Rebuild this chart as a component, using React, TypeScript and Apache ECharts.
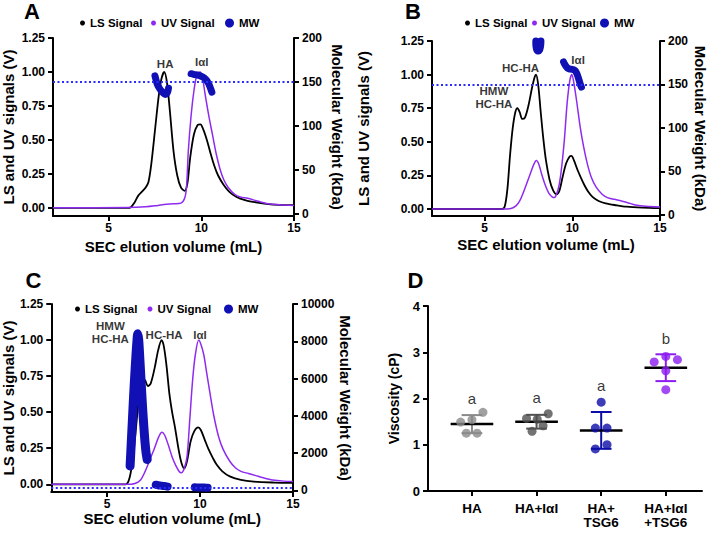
import React, { useEffect, useRef } from "react";
import * as echarts from "echarts";

const FONT = "'Liberation Sans', Arial, sans-serif";

// ---------- Data ----------
const xTicks = [5, 10, 15];
const signalTicks = [0, 0.25, 0.5, 0.75, 1, 1.25];
const mwTicksAB = [0, 50, 100, 150, 200];
const mwTicksC = [0, 2000, 4000, 6000, 8000, 10000];
const mwRef = 150;

const lsA: number[][] = [[2,0],[6,0],[6.2,0.005],[6.4,0.04],[6.6,0.09],[6.8,0.12],[7,0.15],[7.15,0.19],[7.3,0.32],[7.5,0.57],[7.7,0.82],[7.85,0.95],[8,1.0],[8.15,0.92],[8.3,0.72],[8.5,0.42],[8.7,0.24],[8.9,0.15],[9.1,0.125],[9.25,0.18],[9.4,0.37],[9.6,0.54],[9.8,0.61],[9.95,0.615],[10.1,0.58],[10.3,0.5],[10.5,0.4],[10.7,0.31],[10.9,0.24],[11.2,0.17],[11.5,0.12],[11.9,0.08],[12.4,0.055],[12.8,0.044],[13.5,0.03],[14.2,0.022],[15,0.02]];
const uvA: number[][] = [[2,0],[6,0.003],[7,0.008],[7.5,0.015],[8,0.025],[8.5,0.03],[8.9,0.035],[9.1,0.07],[9.2,0.15],[9.3,0.42],[9.45,0.68],[9.6,0.86],[9.75,0.97],[9.93,1.0],[10.05,0.97],[10.2,0.84],[10.4,0.68],[10.6,0.54],[10.8,0.4],[11,0.29],[11.2,0.21],[11.45,0.15],[11.8,0.1],[12.1,0.08],[12.5,0.07],[12.9,0.055],[13.2,0.043],[13.6,0.03],[14.2,0.022],[15,0.018]];
const mwA_HA: number[][] = [[7.5,157],[7.55,153],[7.6,149],[7.66,146],[7.74,143],[7.82,140.5],[7.9,138.5],[7.98,137],[8.06,136],[8.14,137],[8.2,140],[8.23,143]];
const mwA_IaI: number[][] = [[9.45,159.5],[9.55,159],[9.65,158.5],[9.8,158],[9.95,157],[10.1,155.5],[10.22,153.5],[10.32,151],[10.4,148],[10.47,144.5],[10.53,141],[10.57,138.5]];

const lsB: number[][] = [[2,0],[6,0],[6.15,0.02],[6.3,0.15],[6.45,0.4],[6.6,0.6],[6.75,0.72],[6.87,0.75],[7,0.72],[7.15,0.67],[7.3,0.68],[7.5,0.77],[7.7,0.9],[7.85,0.98],[7.93,1.0],[8.05,0.93],[8.2,0.72],[8.35,0.52],[8.5,0.36],[8.7,0.22],[8.9,0.14],[9.1,0.11],[9.25,0.13],[9.45,0.24],[9.65,0.34],[9.85,0.39],[9.95,0.395],[10.1,0.36],[10.3,0.29],[10.5,0.23],[10.7,0.175],[10.9,0.13],[11.15,0.09],[11.5,0.06],[11.9,0.042],[12.5,0.028],[13.1,0.017],[14,0.01],[15,0.006]];
const uvB: number[][] = [[2,0],[6,0],[6.5,0.004],[6.8,0.025],[7,0.06],[7.2,0.12],[7.4,0.19],[7.6,0.26],[7.8,0.33],[7.95,0.36],[8.1,0.33],[8.25,0.26],[8.45,0.18],[8.65,0.12],[8.85,0.09],[8.98,0.085],[9.1,0.11],[9.25,0.18],[9.4,0.32],[9.55,0.52],[9.7,0.78],[9.85,0.95],[9.97,1.0],[10.1,0.93],[10.25,0.8],[10.45,0.61],[10.65,0.46],[10.85,0.34],[11.1,0.23],[11.35,0.165],[11.7,0.11],[12,0.085],[12.4,0.072],[12.8,0.06],[13.2,0.045],[13.6,0.03],[14.2,0.02],[15,0.015]];
const mwB_HC: number[][] = [[7.92,200],[7.92,196],[7.94,192.5],[7.97,190],[8.02,188.5],[8.08,188.5],[8.13,189.5],[8.17,192],[8.2,195.5],[8.21,200]];
const mwB_IaI: number[][] = [[9.5,176],[9.56,173.5],[9.64,171],[9.72,169],[9.82,168],[9.95,167.5],[10.08,167],[10.18,165.5],[10.26,162.5],[10.33,158.5],[10.4,154],[10.46,150],[10.52,147]];

const lsC: number[][] = [[2,0],[6,0],[6.15,0.02],[6.3,0.1],[6.45,0.25],[6.6,0.45],[6.75,0.65],[6.9,0.74],[7.05,0.72],[7.2,0.68],[7.35,0.7],[7.55,0.8],[7.75,0.93],[7.93,1.0],[8.05,0.96],[8.2,0.82],[8.35,0.63],[8.5,0.5],[8.66,0.39],[8.85,0.24],[9,0.15],[9.15,0.11],[9.3,0.16],[9.5,0.3],[9.7,0.37],[9.9,0.395],[10.05,0.375],[10.25,0.31],[10.45,0.245],[10.7,0.18],[10.9,0.135],[11.2,0.09],[11.6,0.055],[12.2,0.03],[12.9,0.018],[14,0.012],[15,0.01]];
const uvC: number[][] = [[2,0],[6,0],[6.5,0.006],[6.8,0.03],[7.05,0.09],[7.3,0.17],[7.55,0.25],[7.75,0.32],[7.95,0.36],[8.1,0.34],[8.3,0.27],[8.5,0.19],[8.7,0.13],[8.9,0.085],[9,0.08],[9.15,0.11],[9.3,0.19],[9.45,0.45],[9.6,0.72],[9.75,0.9],[9.93,1.0],[10.05,0.97],[10.2,0.9],[10.35,0.78],[10.55,0.62],[10.75,0.47],[11,0.33],[11.25,0.24],[11.6,0.16],[11.9,0.115],[12.2,0.09],[12.6,0.075],[13,0.06],[13.4,0.045],[13.9,0.03],[14.5,0.022],[15,0.02]];
const mwC_HMW: number[][] = [[6.24,1300],[6.3,2500],[6.36,3700],[6.42,4900],[6.48,6000],[6.54,7000],[6.6,7900],[6.65,8400],[6.7,8100],[6.75,7300],[6.8,6400],[6.86,5300],[6.92,4300],[6.98,3400],[7.04,2600],[7.1,2000],[7.16,1650]];
const mwC_HC: number[][] = [[7.62,300],[7.75,270],[7.9,250],[8.05,230],[8.15,220],[8.26,200]];
const mwC_IaI: number[][] = [[9.72,160],[9.9,155],[10.1,150],[10.25,145],[10.41,140]];

const annA = [{ t: "HA", x: 8.05, y: 1.058 }, { t: "IαI", x: 10.02, y: 1.07 }];
const annB = [{ t: "HMW\nHC-HA", x: 5.53, y: 0.83 }, { t: "HC-HA", x: 7.05, y: 1.05 }, { t: "IαI", x: 10.33, y: 1.11 }];
const annC = [{ t: "HMW\nHC-HA", x: 5.18, y: 1.053 }, { t: "HC-HA", x: 8.07, y: 1.037 }, { t: "IαI", x: 10.0, y: 1.037 }];

// Panel D
const groups = ["HA", "HA+IαI", "HA+\nTSG6", "HA+IαI\n+TSG6"];
const viscHA = [1.49, 1.54, 1.70, 1.25, 1.25];
const viscHAIaI = [1.57, 1.55, 1.67, 1.29, 1.41];
const viscHATSG6 = [1.92, 1.36, 1.36, 0.91, 1.0];
const viscHAIaITSG6 = [2.79, 2.91, 2.84, 2.60, 2.19];
const jitterHA = [-0.175, 0, 0.17, -0.087, 0.08];
const jitterHAIaI = [-0.155, 0.01, 0.18, -0.07, 0.1];
const jitterHATSG6 = [0, -0.09, 0.09, -0.09, 0.09];
const jitterHAIaITSG6 = [-0.18, 0, 0.18, 0, 0];
const letters = ["a", "a", "a", "b"];
const letterY = [2.0, 2.03, 2.29, 3.3];
const groupColors = ["#8a8a8a", "#505050", "#0c0ca8", "#8c1cf0"];

// ---------- Styles ----------
const LS_COLOR = "#000000";
const UV_COLOR = "#8f2bf0";
const MW_COLOR = "#1010b5";
const REF_COLOR = "#2b2bff";

const axisLine = { show: true, onZero: false, lineStyle: { color: "#000", width: 2 } };
const tickStyle = { color: "#000", width: 2 };
const labelFont = { fontFamily: FONT, fontWeight: "bold" as const, fontSize: 12, color: "#000" };
const nameFont = { fontFamily: FONT, fontWeight: "bold" as const, fontSize: 15, color: "#000" };

function xAxisSEC(gridIndex: number, nameGap: number) {
  return {
    type: "value", gridIndex, min: 2, max: 15,
    name: "SEC elution volume (mL)", nameLocation: "middle", nameGap, nameTextStyle: nameFont,
    axisLine, splitLine: { show: false },
    axisTick: { show: true, customValues: xTicks, length: 5, lineStyle: tickStyle },
    axisLabel: { customValues: xTicks, margin: 6, ...labelFont },
  };
}
function yLeft(gridIndex: number, min: number, nameGap: number) {
  return {
    type: "value", gridIndex, position: "left", min, max: 1.25,
    name: "LS and UV signals (V)", nameLocation: "middle", nameRotate: 90, nameGap, nameTextStyle: nameFont,
    axisLine, splitLine: { show: false },
    axisTick: { show: true, customValues: signalTicks, length: 5, lineStyle: tickStyle },
    axisLabel: { customValues: signalTicks, margin: 8, formatter: (v: number) => v.toFixed(2), ...labelFont },
  };
}
function yRight(gridIndex: number, min: number, max: number, ticks: number[], nameGap: number) {
  return {
    type: "value", gridIndex, position: "right", min, max,
    name: "Molecular Weight (kDa)", nameLocation: "middle", nameRotate: -90, nameGap, nameTextStyle: nameFont,
    axisLine, splitLine: { show: false },
    axisTick: { show: true, customValues: ticks, length: 5, lineStyle: tickStyle },
    axisLabel: { customValues: ticks, margin: 8, formatter: (v: number) => String(v), ...labelFont },
  };
}

function curveSeries(name: string, data: number[][], color: string, width: number, xi: number, yi: number) {
  return {
    name, type: "line", xAxisIndex: xi, yAxisIndex: yi, data, showSymbol: false, smooth: 0.3,
    lineStyle: { color, width }, itemStyle: { color }, silent: true, z: 2,
  };
}
function mwSeries(data: number[][], width: number, xi: number, yi: number, withRef: boolean) {
  const s: any = {
    name: "MW", type: "line", xAxisIndex: xi, yAxisIndex: yi, data, showSymbol: false, smooth: 0.3,
    clip: false, silent: true, z: 4,
    lineStyle: { color: MW_COLOR, width, cap: "round", join: "round" }, itemStyle: { color: MW_COLOR },
  };
  if (withRef) {
    s.markLine = {
      silent: true, symbol: "none", label: { show: false },
      lineStyle: { color: REF_COLOR, type: [2, 2.5], width: 1.8 },
      data: [{ yAxis: mwRef }],
    };
  }
  return s;
}
function annSeries(items: { t: string; x: number; y: number }[], xi: number, yi: number) {
  return {
    type: "scatter", xAxisIndex: xi, yAxisIndex: yi, symbolSize: 0, silent: true, z: 5,
    data: items.map((a) => ({ name: a.t, value: [a.x, a.y] })),
    label: { show: true, position: "inside", formatter: "{b}", fontFamily: FONT, fontWeight: "bold", fontSize: 11.5, lineHeight: 13.5, color: "#000" },
  };
}

function legendItem(left: number, top: number, name: string, size: number) {
  return {
    left, top, padding: 0, selectedMode: false, itemWidth: size, itemHeight: size,
    data: [{ name, icon: "circle" }],
    textStyle: { fontFamily: FONT, fontWeight: "bold", fontSize: 11.5, color: "#000" },
  };
}

const mean = (a: number[]) => a.reduce((s, v) => s + v, 0) / a.length;
const sd = (a: number[]) => {
  const m = mean(a);
  return Math.sqrt(a.reduce((s, v) => s + (v - m) * (v - m), 0) / (a.length - 1));
};

function buildOption() {
  const viscGroups = [viscHA, viscHAIaI, viscHATSG6, viscHAIaITSG6];
  const jitters = [jitterHA, jitterHAIaI, jitterHATSG6, jitterHAIaITSG6];

  const dSeries: any[] = [];
  dSeries.push({
    type: "custom", xAxisIndex: 3, yAxisIndex: 6, silent: true, z: 2,
    data: viscGroups.map((g, i) => [i + 1, mean(g), sd(g), i]),
    renderItem: (params: any, api: any) => {
      const x = api.value(0), m = api.value(1), s = api.value(2), ci = api.value(3);
      const color = groupColors[ci];
      const top = api.coord([x, m + s]);
      const bot = api.coord([x, m - s]);
      const mid = api.coord([x, m]);
      const capW = api.size([0.16, 0])[0];
      const meanW = api.size([0.33, 0])[0];
      const ls = { stroke: color, lineWidth: 2 };
      return {
        type: "group",
        children: [
          { type: "line", shape: { x1: top[0], y1: top[1], x2: bot[0], y2: bot[1] }, style: ls },
          { type: "line", shape: { x1: top[0] - capW, y1: top[1], x2: top[0] + capW, y2: top[1] }, style: ls },
          { type: "line", shape: { x1: bot[0] - capW, y1: bot[1], x2: bot[0] + capW, y2: bot[1] }, style: ls },
          { type: "line", shape: { x1: mid[0] - meanW, y1: mid[1], x2: mid[0] + meanW, y2: mid[1] }, style: { stroke: "#000", lineWidth: 2.5 } },
        ],
      };
    },
  });
  viscGroups.forEach((g, i) => {
    dSeries.push({
      name: groups[i], type: "scatter", xAxisIndex: 3, yAxisIndex: 6, symbolSize: 9, silent: true, z: 3,
      itemStyle: { color: groupColors[i] },
      data: g.map((v, k) => [i + 1 + jitters[i][k], v]),
    });
  });
  dSeries.push({
    type: "scatter", xAxisIndex: 3, yAxisIndex: 6, symbolSize: 0, silent: true, z: 5,
    data: letters.map((t, i) => ({ name: t, value: [i + 1, letterY[i]] })),
    label: { show: true, position: "inside", formatter: "{b}", fontFamily: FONT, fontSize: 15, color: "#000" },
  });

  const panelLetter = (t: string, x: number, y: number) => ({
    type: "text", x, y,
    style: { text: t, fill: "#000", font: `bold 22px ${FONT}`, textAlign: "center", textVerticalAlign: "middle", align: "center", verticalAlign: "middle" },
  });

  return {
    animation: false,
    backgroundColor: "#fff",
    grid: [
      { left: 52, top: 38, width: 242, height: 178 },
      { left: 432, top: 41, width: 229, height: 175 },
      { left: 50, top: 304, width: 243, height: 188 },
      { left: 428, top: 306, width: 274, height: 185 },
    ],
    xAxis: [
      xAxisSEC(0, 23),
      xAxisSEC(1, 21),
      xAxisSEC(2, 19),
      {
        type: "value", gridIndex: 3, min: 0.32, max: 4.56,
        axisLine, splitLine: { show: false },
        axisTick: { show: true, customValues: [1, 2, 3, 4], length: 5, lineStyle: tickStyle },
        axisLabel: {
          customValues: [1, 2, 3, 4], margin: 11, formatter: (v: number) => groups[Math.round(v) - 1],
          fontFamily: FONT, fontWeight: "bold", fontSize: 13.5, lineHeight: 13.5, color: "#000",
        },
      },
    ],
    yAxis: [
      yLeft(0, -0.06, 37),
      yRight(0, -2, 200, mwTicksAB, 36),
      yLeft(1, -0.052, 61),
      yRight(1, -1.2, 200, mwTicksAB, 33),
      yLeft(2, -0.0534, 33),
      yRight(2, -91, 10000, mwTicksC, 42),
      {
        type: "value", gridIndex: 3, min: 0, max: 4, interval: 1,
        name: "Viscosity (cP)", nameLocation: "middle", nameRotate: 90, nameGap: 27,
        nameTextStyle: { ...nameFont, fontSize: 14 },
        axisLine, splitLine: { show: false },
        axisTick: { show: true, length: 5, lineStyle: tickStyle },
        axisLabel: { margin: 8, ...labelFont, fontSize: 13 },
      },
    ],
    legend: [
      legendItem(80, 17, "LS Signal", 5),
      legendItem(151, 17, "UV Signal", 5),
      legendItem(225, 17, "MW", 9),
      legendItem(465, 17, "LS Signal", 5),
      legendItem(532, 17, "UV Signal", 5),
      legendItem(600, 17, "MW", 9),
      legendItem(75, 303, "LS Signal", 5),
      legendItem(147.5, 303, "UV Signal", 5),
      legendItem(224, 303, "MW", 9),
    ],
    graphic: [
      panelLetter("A", 32, 11),
      panelLetter("B", 413, 11),
      panelLetter("C", 33.5, 280),
      panelLetter("D", 415.5, 280),
    ],
    series: [
      curveSeries("LS Signal", lsA, LS_COLOR, 1.8, 0, 0),
      curveSeries("UV Signal", uvA, UV_COLOR, 1.5, 0, 0),
      mwSeries(mwA_HA, 7, 0, 1, true),
      mwSeries(mwA_IaI, 7, 0, 1, false),
      annSeries(annA, 0, 0),

      curveSeries("LS Signal", lsB, LS_COLOR, 1.8, 1, 2),
      curveSeries("UV Signal", uvB, UV_COLOR, 1.5, 1, 2),
      mwSeries(mwB_HC, 7, 1, 3, true),
      mwSeries(mwB_IaI, 7, 1, 3, false),
      annSeries(annB, 1, 2),

      curveSeries("LS Signal", lsC, LS_COLOR, 1.8, 2, 4),
      curveSeries("UV Signal", uvC, UV_COLOR, 1.5, 2, 4),
      mwSeries(mwC_HMW, 9, 2, 5, true),
      mwSeries(mwC_HC, 8, 2, 5, false),
      mwSeries(mwC_IaI, 8, 2, 5, false),
      annSeries(annC, 2, 4),

      ...dSeries,
    ],
  };
}

export default function App() {
  const ref = useRef<HTMLDivElement>(null);
  useEffect(() => {
    if (!ref.current) return;
    const chart = echarts.init(ref.current, null, { renderer: "svg" });
    chart.setOption(buildOption() as any);
    return () => chart.dispose();
  }, []);
  return <div ref={ref} style={{ position: "fixed", left: 0, top: 0, width: 709, height: 534 }} />;
}
